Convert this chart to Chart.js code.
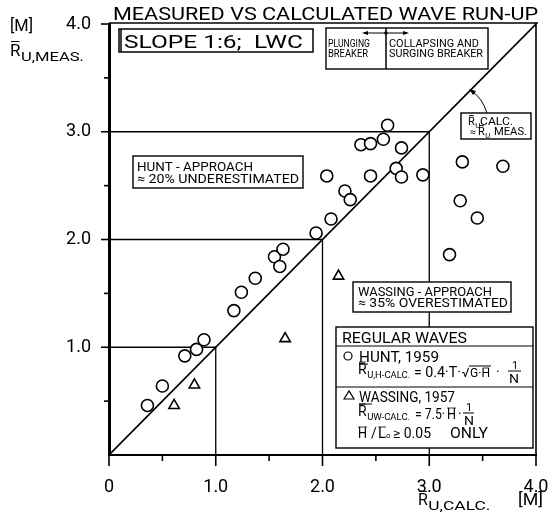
<!DOCTYPE html>
<html>
<head>
<meta charset="utf-8">
<script src="https://cdn.jsdelivr.net/npm/chart.js@4"></script>
<style>
  html, body { margin: 0; padding: 0; background: #fff; }
</style>
</head>
<body>
<canvas id="chart" width="551" height="514"></canvas>
<script>
// measured vs calculated run-up (m)
const huntCalc = [0.36, 0.50, 0.71, 0.82, 0.89, 1.17, 1.24, 1.37, 1.55, 1.60, 1.63, 1.94, 2.04, 2.08, 2.21,
                  2.26, 2.36, 2.45, 2.45, 2.57, 2.61, 2.69, 2.74, 2.74, 2.94, 3.19, 3.29, 3.31, 3.45, 3.69];
const huntMeas = [0.46, 0.64, 0.92, 0.98, 1.07, 1.34, 1.51, 1.64, 1.84, 1.75, 1.91, 2.06, 2.59, 2.19, 2.45,
                  2.37, 2.88, 2.89, 2.59, 2.93, 3.06, 2.66, 2.85, 2.58, 2.60, 1.86, 2.36, 2.72, 2.20, 2.68];
const wassCalc = [0.61, 0.80, 1.65, 2.15];
const wassMeas = [0.46, 0.65, 1.08, 1.66];
const diagonal = [0, 4];
const refLevels = [1, 2, 3];
const xTickLabels = ["0", "1.0", "2.0", "3.0", "4.0"];
const yTickLabels = ["", "1.0", "2.0", "3.0", "4.0"];

const FONT = "Roboto, 'Liberation Sans', sans-serif";

function put(ctx, s, x, y, size, w) {
  ctx.save();
  ctx.font = size + "px " + FONT;
  ctx.textBaseline = "alphabetic";
  ctx.textAlign = "left";
  const m = ctx.measureText(s).width;
  const k = w ? w / m : 1;
  ctx.translate(x, y);
  ctx.scale(k, 1);
  ctx.fillText(s, 0, 0);
  ctx.restore();
  return m * k;
}

function line(ctx, x1, y1, x2, y2, lw) {
  ctx.lineWidth = lw || 1.2;
  ctx.beginPath();
  ctx.moveTo(x1, y1);
  ctx.lineTo(x2, y2);
  ctx.stroke();
}

function box(ctx, x, y, w, h, lw) {
  ctx.fillStyle = "#fff";
  ctx.fillRect(x, y, w, h);
  ctx.lineWidth = lw || 1.4;
  ctx.strokeRect(x, y, w, h);
  ctx.fillStyle = "#000";
}

// R with overbar and subscript
function rbar(ctx, x, y, size, sub, subSize, subW) {
  const rw = put(ctx, "R", x, y, size);
  line(ctx, x + 1, y - size * 0.85, x + rw - 1, y - size * 0.85, 1);
  put(ctx, sub, x + rw + 0.5, y + size * 0.3, subSize, subW);
}

const annotations = {
  id: "annotations",
  afterDraw(chart) {
    const ctx = chart.ctx;
    const a = chart.chartArea;
    const xs = chart.scales.x, ys = chart.scales.y;
    ctx.save();
    ctx.strokeStyle = "#000";
    ctx.fillStyle = "#000";

    // frame right + top
    line(ctx, a.right, a.top - 1, a.right, a.bottom, 1.6);
    line(ctx, a.left, a.top - 1, a.right + 2, a.top - 1, 1.6);

    // tick marks
    for (let v = 0; v <= 4.001; v += 0.5) {
      const major = Math.abs(v - Math.round(v)) < 0.01;
      const px = xs.getPixelForValue(v);
      line(ctx, px, a.bottom, px, a.bottom + (major ? 11 : 6), 1.6);
      if (v > 0) {
        const py = ys.getPixelForValue(v);
        line(ctx, a.left, py, a.left - (major ? 8 : 5), py, 1.6);
      }
    }

    // title
    put(ctx, "MEASURED VS CALCULATED WAVE RUN-UP", 113, 20, 18, 425);

    // axis titles
    put(ctx, "[M]", 10, 31, 17, 23);
    rbar(ctx, 10, 56, 17, "U,MEAS.", 12, 63);
    rbar(ctx, 418, 505, 16, "U,CALC.", 12, 62);
    put(ctx, "[M]", 518, 505, 17, 25);

    // slope box
    box(ctx, 119, 29, 194, 23, 1.5);
    line(ctx, 121, 29, 121, 52, 1.5);
    put(ctx, "SLOPE 1:6;  LWC", 124, 48, 19, 179);

    // breaker box
    box(ctx, 326, 28, 162, 41);
    line(ctx, 386, 28, 386, 69, 1.5);
    line(ctx, 364, 33, 407, 33, 1);
    ctx.beginPath();
    ctx.arc(386, 33, 1.8, 0, Math.PI * 2);
    ctx.fill();
    ctx.beginPath();
    ctx.moveTo(362, 33); ctx.lineTo(368, 31); ctx.lineTo(368, 35); ctx.closePath(); ctx.fill();
    ctx.beginPath();
    ctx.moveTo(409, 33); ctx.lineTo(403, 31); ctx.lineTo(403, 35); ctx.closePath(); ctx.fill();
    put(ctx, "PLUNGING", 328, 47, 11, 42);
    put(ctx, "BREAKER", 328, 57, 11, 40);
    put(ctx, "COLLAPSING AND", 389, 47, 11, 90);
    put(ctx, "SURGING BREAKER", 389, 57, 11, 94);

    // leader to the diagonal
    ctx.lineWidth = 1;
    ctx.beginPath();
    ctx.moveTo(471, 91);
    ctx.quadraticCurveTo(482, 97, 487, 113);
    ctx.stroke();
    ctx.beginPath();
    ctx.moveTo(469, 89); ctx.lineTo(476, 91); ctx.lineTo(473, 95); ctx.closePath(); ctx.fill();

    box(ctx, 461, 113, 70, 26);
    rbar(ctx, 468, 125, 11, "U", 8, 5);
    put(ctx, "CALC.", 480, 125, 11, 33);
    put(ctx, "≈", 470, 135, 10, 6);
    rbar(ctx, 478, 135, 11, "U", 8, 5);
    put(ctx, "MEAS.", 494, 135, 11, 33);

    // hunt approach box
    box(ctx, 133, 156, 170, 32);
    put(ctx, "HUNT - APPROACH", 137, 171, 13, 116);
    put(ctx, "≈ 20% UNDERESTIMATED", 137, 183, 13, 162);

    // wassing approach box
    box(ctx, 353, 282, 158, 30);
    put(ctx, "WASSING - APPROACH", 358, 296, 13, 134);
    put(ctx, "≈ 35% OVERESTIMATED", 358, 307, 13, 150);

    // legend box
    box(ctx, 336, 327, 197, 121);
    line(ctx, 336, 346, 533, 346, 1.2);
    line(ctx, 336, 387, 533, 387, 1.2);
    put(ctx, "REGULAR WAVES", 342, 343, 15, 125);

    ctx.lineWidth = 1.2;
    ctx.beginPath();
    ctx.arc(348, 356, 4, 0, Math.PI * 2);
    ctx.stroke();
    put(ctx, "HUNT, 1959", 359, 362, 14, 80);
    line(ctx, 359, 364, 368, 364, 1);
    rbar(ctx, 358, 374, 14, "U,H-CALC.", 9, 43);
    put(ctx, "= 0.4·T·", 414, 377, 14, 47);
    put(ctx, "√", 462, 377, 13);
    line(ctx, 469, 366, 491, 366, 1);
    put(ctx, "G·H", 470, 377, 12, 20);
    line(ctx, 483, 368, 489, 368, 0.8);
    put(ctx, "·", 496, 377, 14);
    put(ctx, "1", 512, 369, 11);
    line(ctx, 508, 371, 521, 371, 1);
    put(ctx, "N", 509, 383, 13, 10);

    ctx.lineWidth = 1.2;
    ctx.beginPath();
    ctx.moveTo(344, 399); ctx.lineTo(349, 391); ctx.lineTo(354, 399); ctx.closePath();
    ctx.stroke();
    put(ctx, "WASSING, 1957", 359, 402, 14, 96);
    line(ctx, 359, 404, 372, 404, 1);
    rbar(ctx, 358, 416, 14, "UW-CALC.", 9, 43);
    put(ctx, "= 7.5·", 415, 419, 14, 30);
    put(ctx, "H", 447, 419, 14, 9);
    line(ctx, 447, 408, 456, 408, 0.8);
    put(ctx, "·", 458, 419, 14);
    put(ctx, "1", 466, 411, 11);
    line(ctx, 463, 413, 474, 413, 1);
    put(ctx, "N", 464, 425, 13, 10);

    put(ctx, "H", 358, 438, 14, 9);
    line(ctx, 358, 427, 367, 427, 0.8);
    put(ctx, "/", 371, 438, 14);
    put(ctx, "L", 378, 438, 14, 8);
    line(ctx, 378, 427, 386, 427, 0.8);
    put(ctx, "o", 386, 438, 8);
    put(ctx, "≥ 0.05", 393, 438, 14, 38);
    put(ctx, "ONLY", 450, 438, 14, 38);

    ctx.restore();
  }
};

const huntPoints = huntCalc.map((x, i) => ({ x, y: huntMeas[i] }));
const wassPoints = wassCalc.map((x, i) => ({ x, y: wassMeas[i] }));
const diagPoints = diagonal.map(v => ({ x: v, y: v }));
const refSets = refLevels.map(v => ({
  type: "line",
  data: [{ x: 0, y: v }, { x: v, y: v }, { x: v, y: 0 }],
  borderColor: "#000",
  borderWidth: 1.3,
  pointRadius: 0,
  fill: false
}));

new Chart(document.getElementById("chart"), {
  type: "scatter",
  data: {
    datasets: [
      {
        label: "Hunt, 1959",
        data: huntPoints,
        pointStyle: "circle",
        pointRadius: 6,
        pointBorderWidth: 1.6,
        borderColor: "#000",
        backgroundColor: "#fff"
      },
      {
        label: "Wassing, 1957",
        data: wassPoints,
        pointStyle: "triangle",
        pointRadius: 6,
        pointBorderWidth: 1.6,
        borderColor: "#000",
        backgroundColor: "#fff"
      },
      {
        type: "line",
        data: diagPoints,
        borderColor: "#000",
        borderWidth: 1.6,
        pointRadius: 0,
        fill: false
      },
      ...refSets
    ]
  },
  options: {
    responsive: false,
    animation: false,
    layout: { padding: { top: 24, right: 15, left: 0, bottom: 0 } },
    plugins: { legend: { display: false }, tooltip: { enabled: false } },
    scales: {
      x: {
        type: "linear",
        min: 0,
        max: 4,
        afterFit: s => { s.height = 59; s.paddingLeft = 0; s.paddingRight = 0; },
        afterBuildTicks: s => { s.ticks = xTickLabels.map((t, i) => ({ value: i })); },
        ticks: {
          padding: 14,
          color: "#000",
          maxRotation: 0,
          font: { family: FONT, size: 18 },
          callback: (v, i) => xTickLabels[i]
        },
        grid: { display: false },
        border: { display: true, color: "#000", width: 2 }
      },
      y: {
        min: 0,
        max: 4,
        afterFit: s => { s.width = 109; s.paddingTop = 0; s.paddingBottom = 0; },
        afterBuildTicks: s => { s.ticks = yTickLabels.map((t, i) => ({ value: i })); },
        ticks: {
          padding: 10,
          color: "#000",
          font: { family: FONT, size: 18 },
          callback: (v, i) => yTickLabels[i]
        },
        grid: { display: false },
        border: { display: true, color: "#000", width: 3 }
      }
    }
  },
  plugins: [annotations]
});
</script>
</body>
</html>
